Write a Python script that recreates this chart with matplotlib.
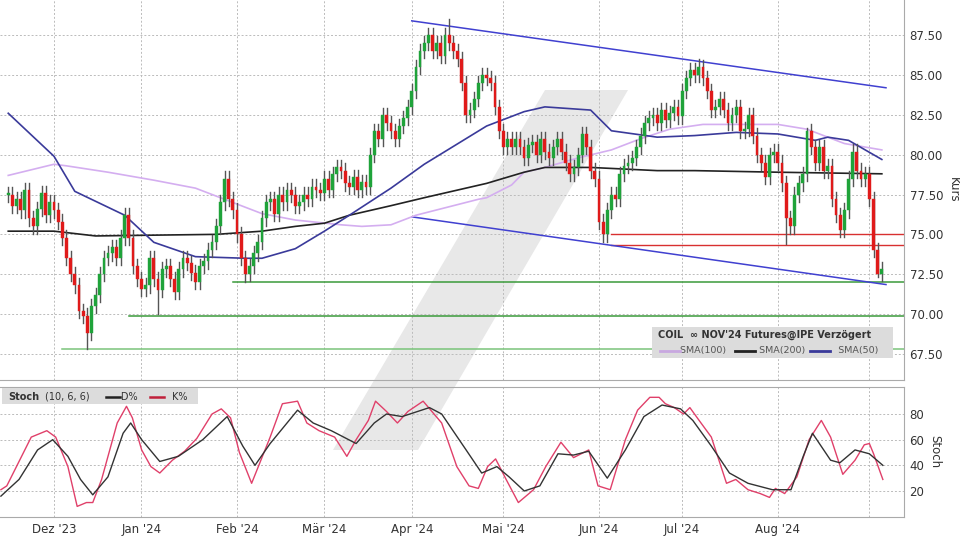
import numpy as np
import pandas as pd
import matplotlib
matplotlib.use("Agg")
import matplotlib.pyplot as plt
from matplotlib.patches import Polygon, Rectangle
from matplotlib.lines import Line2D

# ---------------- data ----------------
closes = [
    # Nov 16-30 2023
    77.5, 76.8, 77.2, 76.5, 77.8, 76.0, 75.5, 76.6, 77.6, 76.2, 77.0,
    # Dec
    76.5, 75.8, 74.8, 73.5, 72.5, 71.8, 70.2, 69.9, 68.8, 70.5, 71.2,
    72.5, 73.5, 73.8, 74.2, 73.5, 74.8, 76.2, 74.8, 73.0, 72.2,
    # Jan
    71.6, 71.8, 73.5, 72.2, 71.5, 72.8, 73.0, 72.2, 71.4, 72.8, 73.5, 73.2,
    72.6, 72.0, 73.0, 73.3, 74.0, 74.5, 75.5, 77.0, 78.5, 77.2, 76.5,
    # Feb
    75.0, 73.5, 72.5, 73.0, 73.8, 74.5, 76.0, 77.0, 77.2, 76.3, 77.5,
    77.0, 77.8, 77.5, 76.8, 77.0, 77.5, 77.2, 78.0, 77.8, 77.6,
    # Mar
    78.5, 77.8, 78.8, 79.2, 79.0, 78.2, 78.0, 78.6, 77.8, 78.3, 78.0,
    80.0, 81.5, 81.0, 82.5, 82.0, 81.5, 81.0, 81.8, 82.3, 83.0,
    # Apr
    84.0, 85.5, 86.5, 87.0, 87.5, 86.5, 87.0, 86.2, 87.5, 87.0, 86.5,
    86.0, 84.5, 82.5, 82.8, 83.5, 84.5, 85.0, 84.8, 84.5, 83.0, 81.5,
    # May
    80.5, 81.0, 80.5, 81.0, 80.5, 79.8, 80.6, 80.8, 80.0, 81.0, 80.2, 79.8,
    80.5, 81.0, 80.2, 79.5, 78.8, 79.2, 80.0, 81.3, 80.5, 79.0, 78.5,
    # Jun
    75.8, 75.0, 76.5, 77.5, 77.2, 78.8, 79.3, 79.5, 79.8, 80.5,
    81.2, 82.0, 82.3, 82.5, 82.0, 82.8, 82.2, 82.6, 83.0, 82.4,
    # Jul
    84.0, 84.8, 85.3, 85.0, 85.5, 84.8, 84.0, 82.8, 83.0, 83.5, 82.8, 82.0,
    82.5, 83.0, 81.5, 81.6, 82.5, 81.2, 80.0, 79.5, 78.6, 80.0, 80.2,
    # Aug
    79.5, 78.2, 76.0, 75.5, 77.5, 78.2, 78.8, 81.5, 80.5, 79.5, 80.5,
    79.0, 79.3, 77.2, 76.2, 75.3, 76.5, 78.5, 80.2, 79.0, 78.5, 78.8,
    # Sep
    77.2, 74.0, 72.5, 72.8,
]
special_lows = {"2023-12-13": 67.8, "2024-01-05": 70.0, "2024-02-05": 72.0,
                "2024-06-04": 74.5, "2024-08-05": 74.4, "2024-09-04": 72.3}
special_highs = {"2024-04-12": 88.5, "2024-07-05": 86.0, "2024-08-12": 81.7}

sma50_dates = ["2023-11-16", "2023-12-01", "2023-12-08", "2023-12-26", "2024-01-04",
               "2024-01-18", "2024-02-05", "2024-02-09", "2024-02-21", "2024-03-01",
               "2024-03-11", "2024-03-25", "2024-04-04", "2024-04-11", "2024-04-18",
               "2024-04-25", "2024-05-08", "2024-05-15", "2024-05-30", "2024-06-06",
               "2024-06-21", "2024-07-04", "2024-07-18", "2024-08-01", "2024-08-14",
               "2024-08-19", "2024-08-26", "2024-09-05"]
sma50_vals = [82.6, 79.9, 77.7, 76.2, 74.5, 73.6, 73.5, 73.5, 74.1, 75.2,
              76.2, 77.9, 79.4, 80.2, 81.0, 81.8, 82.7, 83.0, 82.8, 81.5,
              81.1, 81.2, 81.4, 81.3, 80.9, 81.1, 80.9, 79.7]

sma200_dates = ["2023-11-16", "2023-12-01", "2023-12-15", "2024-01-04", "2024-01-25",
                "2024-02-09", "2024-02-21", "2024-03-01", "2024-03-11", "2024-03-25",
                "2024-04-04", "2024-04-25", "2024-05-08", "2024-05-15", "2024-05-30",
                "2024-06-21", "2024-07-04", "2024-08-01", "2024-09-05"]
sma200_vals = [75.2, 75.2, 74.9, 74.95, 75.0, 75.2, 75.5, 75.7, 76.2, 76.8,
               77.3, 78.2, 78.9, 79.2, 79.2, 79.0, 79.0, 78.9, 78.8]

sma100_dates = ["2023-11-16", "2023-12-01", "2023-12-06", "2023-12-20", "2024-01-04",
                "2024-01-18", "2024-01-31", "2024-02-09", "2024-02-21", "2024-03-07",
                "2024-03-14", "2024-03-25", "2024-04-02", "2024-04-23", "2024-04-25",
                "2024-05-03", "2024-05-08", "2024-05-15", "2024-05-27", "2024-06-06",
                "2024-06-17", "2024-06-26", "2024-07-08", "2024-07-18", "2024-08-01",
                "2024-08-12", "2024-08-23", "2024-09-05"]
sma100_vals = [78.7, 79.4, 79.3, 78.9, 78.4, 77.9, 77.0, 76.3, 75.9, 75.6,
               75.5, 75.6, 76.2, 77.2, 77.3, 78.1, 78.9, 79.2, 79.8, 80.3,
               81.0, 81.6, 81.9, 81.9, 81.9, 81.6, 80.7, 80.3]

upper_trend = (["2024-04-01", "2024-09-10"], [88.4, 84.2])
lower_trend = (["2024-04-01", "2024-09-10"], [76.1, 71.85])
red_levels = [(75.0, "2024-06-06"), (74.35, "2024-06-06")]
green_levels = [(72.0, "2024-01-31"), (69.9, "2023-12-27"), (67.8, "2023-12-05")]

k_days = [-12.6, -11.2, -5.4, -1.7, 0.4, 3.3, 5.5, 7.7, 9.2, 11.3, 15, 17.2, 18.6, 20.8,
          23, 25.1, 28.1, 31, 33.9, 37.5, 39.7, 41.9, 44, 46.9, 49.1, 51.3, 54.2, 57.8,
          60, 62.9, 66.6, 69.5, 71.7, 74.6, 76.3, 78.9, 81.5, 84, 87.6, 92, 95.6, 98.5,
          100.7, 102.9, 104.8, 107.3, 110.2, 113.8, 116.7, 120.3, 123.3, 126.9, 129.1,
          132, 135.6, 138.5, 141.4, 143.6, 145.1, 147.2, 149.4, 150.9, 153.1, 156,
          159.6, 161.8, 164.7, 167.6, 169.8, 171.2, 173.4, 176.3, 179.2, 182.1, 184.3,
          187.2, 190.1, 192.3, 193.5, 194.5, 196.7]
k_vals = [21, 24, 62, 67, 62, 39, 8, 11, 11, 29, 73, 86, 77, 52,
          39, 34, 44, 51, 61, 80, 84, 77, 50, 26, 44, 62, 88, 90,
          73, 67, 62, 47, 60, 75, 90, 82, 73, 82, 90, 73, 39, 24,
          22, 39, 45, 29, 11, 21, 39, 58, 46, 52, 24,
          21, 60, 83, 93, 93, 88, 85, 80, 85, 75, 62,
          26, 29, 21, 18, 15, 22, 18, 31, 60, 75, 62,
          33, 44, 56, 57, 49, 29]
d_days = [-12.6, -8.3, -3.9, -0.3, 3.3, 6.3, 9.2, 12.8, 16.4, 18.2, 20.8, 25.1, 29.5,
          35.3, 41.1, 44.8, 47.7, 51.3, 57.8, 61.5, 65.8, 71.7, 76, 78.9, 82.6, 89.1,
          92, 97.8, 101.5, 105.1, 108, 111.6, 115.3, 119.6, 123.3, 126.9, 131.3, 135.6,
          140, 144.3, 148.7, 151.6, 156, 160.3, 164.7, 170.5, 174.9, 177.8, 180, 184.3,
          186.5, 190.1, 193.5, 196.7]
d_vals = [16, 29, 52, 60, 47, 29, 17, 31, 65, 73, 60, 43, 47,
          60, 78, 55, 40, 57, 83, 73, 67, 57, 73, 80, 78, 85,
          80, 52, 34, 39, 31, 20, 24, 49, 48, 51, 30, 52,
          78, 87, 84, 75, 55, 34, 26, 21, 21, 47, 65, 44,
          42, 52, 49, 40]

month_ticks = ["2023-12-01", "2024-01-01", "2024-02-01", "2024-03-01", "2024-04-01",
               "2024-05-01", "2024-06-03", "2024-07-01", "2024-08-01", "2024-09-02"]
month_labels = ["Dez '23", "Jan '24", "Feb '24", "Mär '24", "Apr '24",
                "Mai '24", "Jun '24", "Jul '24", "Aug '24", ""]
price_ticks = [67.5, 70.0, 72.5, 75.0, 77.5, 80.0, 82.5, 85.0, 87.5]
stoch_ticks = [20, 40, 60, 80]

# ---------------- helpers ----------------
dates = pd.bdate_range("2023-11-16", periods=len(closes))
def idx(d):
    return float(dates.searchsorted(pd.Timestamp(d)))
dec1 = idx("2023-12-01")
scale = 196 / 193.5

closes = np.array(closes)
opens = np.concatenate([[closes[0]], closes[:-1]])
x = np.arange(len(closes))

fig = plt.figure(figsize=(9.6, 5.4), dpi=100)
fig.patch.set_facecolor("white")
W, H = 960, 540

# background axes for watermark
bg = fig.add_axes([0, 0, 1, 1], zorder=-1)
bg.set_xlim(0, W)
bg.set_ylim(H, 0)
bg.axis("off")
bg.add_patch(Polygon([(545, 90), (628, 90), (418, 450), (333, 450)], closed=True,
                     facecolor="#e8e8e8", edgecolor="none", joinstyle="round"))

ax = fig.add_axes([0, 1 - 380 / H, 904 / W, 380 / H])
ax2 = fig.add_axes([0, 1 - 517 / H, 904 / W, 130 / H])
for a in (ax, ax2):
    a.set_facecolor("none")

xl = (dec1 - 54 / 4.16, dec1 + (904 - 54) / 4.16)

for a in (ax, ax2):
    a.grid(True, color="#bbbbbb", linestyle=(0, (2, 2)), linewidth=0.7)
    a.set_axisbelow(True)

# levels
for lv, start in green_levels:
    ax.plot([idx(start), xl[1]], [lv, lv], color="#3a9a3a" if lv > 68 else "#7ac47a",
            lw=1.1, zorder=2)
for lv, start in red_levels:
    ax.plot([idx(start), xl[1]], [lv, lv], color="#d83030", lw=1.0, zorder=2)
for (ds, vs) in (upper_trend, lower_trend):
    ax.plot([idx(ds[0]), idx(ds[1])], vs, color="#4040d0", lw=1.1, zorder=2)

# SMAs
ax.plot([idx(d) for d in sma100_dates], sma100_vals, color="#d4aef0", lw=1.2, zorder=3)
ax.plot([idx(d) for d in sma200_dates], sma200_vals, color="#222222", lw=1.2, zorder=3)
ax.plot([idx(d) for d in sma50_dates], sma50_vals, color="#3a3a9a", lw=1.2, zorder=3)

# candles
for i in range(len(closes)):
    o, c = opens[i], closes[i]
    ds = dates[i].strftime("%Y-%m-%d")
    hi = special_highs.get(ds, max(o, c) + 0.45)
    lo = special_lows.get(ds, min(o, c) - 0.45)
    ax.plot([x[i], x[i]], [lo, hi], color="#555555", lw=1.0, zorder=4)
    col = "#1fa33a" if c >= o else "#e01a1a"
    bot = min(o, c)
    h = max(abs(c - o), 0.08)
    ax.add_patch(Rectangle((x[i] - 0.34, bot), 0.68, h, facecolor=col,
                           edgecolor=col, lw=0.3, zorder=5))

ax.set_xlim(*xl)
ax.set_ylim(67.5 - 26 / 15.85, 87.5 + 35 / 15.85)
ax.yaxis.tick_right()
ax.set_yticks(price_ticks)
ax.set_yticklabels([f"{v:.2f}" for v in price_ticks], fontsize=8.5, color="#333333")
ax.set_xticks([idx(d) for d in month_ticks])
ax.set_xticklabels([])
ax.tick_params(length=0, pad=4)
ax.yaxis.set_label_position("right")
ax.set_ylabel("Kurs", rotation=270, labelpad=12, fontsize=8.5, color="#333333")

# main legend box
ax.add_patch(Rectangle((652 / 904, 1 - 358 / 380), 241 / 904, 31 / 380,
                       transform=ax.transAxes, facecolor="#dcdcdc", edgecolor="none",
                       zorder=6))
ax.text(658 / 904, 1 - 335 / 380, "COIL  \u221e NOV'24 Futures@IPE Verzögert",
        transform=ax.transAxes, fontsize=7, fontweight="bold", color="#333333",
        va="center", zorder=7)
ax.text(680 / 904, 1 - 351 / 380, "SMA(100)           SMA(200)           SMA(50)",
        transform=ax.transAxes, fontsize=6.8, color="#555555", va="center", zorder=7)
for xs, colr in ((660, "#c8a8e0"), (735, "#222222"), (810, "#3a3a9a")):
    ax.add_line(Line2D([xs / 904, (xs + 20) / 904], [1 - 351 / 380] * 2,
                       transform=ax.transAxes, color=colr, lw=2, zorder=7))

for s in ax.spines.values():
    s.set_color("#aaaaaa")
ax.spines["top"].set_visible(False)
ax.spines["left"].set_visible(False)

# stochastic
ax2.plot([dec1 + d * scale for d in k_days], k_vals, color="#e0406a", lw=1.0, zorder=3)
ax2.plot([dec1 + d * scale for d in d_days], d_vals, color="#333333", lw=1.0, zorder=4)
ax2.set_xlim(*xl)
ax2.set_ylim(20 - 26 / 1.283, 80 + 27 / 1.283)
ax2.yaxis.tick_right()
ax2.set_yticks(stoch_ticks)
ax2.set_yticklabels([str(v) for v in stoch_ticks], fontsize=8.5, color="#333333")
ax2.set_xticks([idx(d) for d in month_ticks])
ax2.set_xticklabels(month_labels, fontsize=8.5, color="#333333")
ax2.tick_params(length=0, pad=4)
ax2.yaxis.set_label_position("right")
ax2.set_ylabel("Stoch", rotation=270, labelpad=12, fontsize=8.5, color="#333333")
for s in ax2.spines.values():
    s.set_color("#aaaaaa")
ax2.spines["left"].set_visible(False)

ax2.add_patch(Rectangle((2 / 904, 1 - 17 / 130), 196 / 904, 16 / 130,
                        transform=ax2.transAxes, facecolor="#dcdcdc", edgecolor="none",
                        zorder=6))
ax2.text(8 / 904, 1 - 9.5 / 130, "Stoch", transform=ax2.transAxes, fontsize=7,
         fontweight="bold", color="#333333", va="center", zorder=7)
ax2.text(45 / 904, 1 - 9.5 / 130, "(10, 6, 6)          D%           K%",
         transform=ax2.transAxes, fontsize=7, color="#333333", va="center", zorder=7)
for xs, colr in ((106, "#222222"), (150, "#c0203a")):
    ax2.add_line(Line2D([xs / 904, (xs + 14) / 904], [1 - 9.5 / 130] * 2,
                        transform=ax2.transAxes, color=colr, lw=1.8, zorder=7))

fig.savefig("out.png", dpi=100, facecolor="white")
